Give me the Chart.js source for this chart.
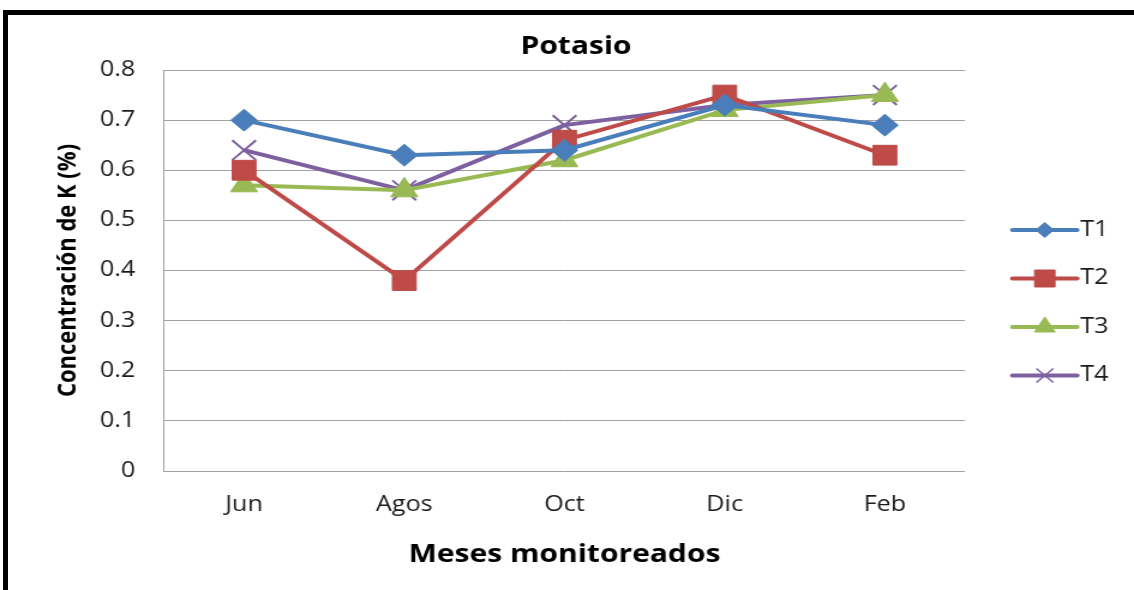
<!DOCTYPE html>
<html><head><meta charset="utf-8">
<script src="https://cdn.jsdelivr.net/npm/chart.js@4.4.0/dist/chart.umd.min.js"></script>
<style>
html,body{margin:0;padding:0;background:#fff;width:1134px;height:590px;overflow:hidden}
#frame{position:absolute;left:3px;top:10px;width:1300px;height:700px;border-top:5px solid #000;border-left:5px solid #000;box-sizing:border-box}
#wrap{position:absolute;left:0;top:0;width:945px;height:590px;transform:scaleX(1.2);transform-origin:0 0}
#c{display:block;width:945px;height:590px}
</style></head><body>
<div id="frame"></div>
<div id="wrap"><canvas id="c" width="945" height="590"></canvas></div>
<script>
const chartTitle = 'Potasio';
const xTitle = 'Meses monitoreados';
const yTitle = 'Concentración de K (%)';
const categories = ['Jun', 'Agos', 'Oct', 'Dic', 'Feb'];
const seriesNames = ['T1', 'T2', 'T3', 'T4'];
const t1 = [0.70, 0.63, 0.64, 0.73, 0.69];
const t2 = [0.60, 0.38, 0.66, 0.75, 0.63];
const t3 = [0.57, 0.56, 0.62, 0.72, 0.75];
const t4 = [0.64, 0.56, 0.69, 0.73, 0.75];
const yMin = 0, yMax = 0.8, yStep = 0.1;

const colors = ['#4A7EBB', '#BE4B48', '#98B954', '#7D60A0'];
const styles = ['rectRot', 'rect', 'triangle', 'crossRot'];
const radii = [11, 14, 13, 14];
const legendRadii = [7.5, 12, 10, 10];
const seriesValues = [t1, t2, t3, t4];
const FONT = "'Open Sans', 'DejaVu Sans', sans-serif";

const datasets = seriesNames.map((n, i) => ({
  label: n,
  data: seriesValues[i],
  borderColor: colors[i],
  backgroundColor: colors[i],
  pointBackgroundColor: colors[i],
  pointBorderColor: colors[i],
  borderWidth: 4,
  pointStyle: styles[i],
  pointRadius: radii[i],
  pointHoverRadius: radii[i],
  pointBorderWidth: i === 3 ? 2 : 1,
  tension: 0,
  fill: false
}));

const overlay = {
  id: 'overlay',
  afterDraw(chart) {
    const ctx = chart.ctx;
    const ca = chart.chartArea;
    ctx.save();
    // title
    ctx.fillStyle = '#000';
    ctx.font = 'bold 25px ' + FONT;
    ctx.textAlign = 'center';
    ctx.textBaseline = 'alphabetic';
    ctx.fillText(chartTitle, ca.left + (ca.right - ca.left) / 2 + 9.6, ca.top - 16);
    // legend
    const lx0 = ca.right + 39.5, lx1 = ca.right + 93.5;
    chart.data.datasets.forEach((ds, i) => {
      const y = ca.top + 160 + i * 48.5;
      ctx.strokeStyle = ds.borderColor;
      ctx.lineWidth = 4;
      ctx.lineCap = 'round';
      ctx.beginPath(); ctx.moveTo(lx0, y); ctx.lineTo(lx1, y); ctx.stroke();
      ctx.lineCap = 'butt';
      ctx.fillStyle = ds.borderColor;
      ctx.strokeStyle = ds.borderColor;
      ctx.lineWidth = i === 3 ? 1.5 : 1;
      Chart.helpers.drawPoint(ctx, {pointStyle: ds.pointStyle, rotation: 0, radius: legendRadii[i], borderWidth: ctx.lineWidth}, (lx0 + lx1) / 2, y);
      ctx.fillStyle = '#1a1a1a';
      ctx.font = '21px ' + FONT;
      ctx.textAlign = 'left';
      ctx.textBaseline = 'middle';
      ctx.fillText(ds.label, lx1 + 2.5, y);
    });
    ctx.restore();
  }
};

new Chart(document.getElementById('c'), {
  type: 'line',
  data: { labels: categories, datasets },
  plugins: [overlay],
  options: {
    responsive: false,
    animation: false,
    devicePixelRatio: 1,
    layout: { padding: { top: 70, right: 140.83, left: 0, bottom: 0 } },
    plugins: { legend: { display: false }, title: { display: false }, tooltip: { enabled: false } },
    scales: {
      x: {
        offset: true,
        grid: { display: false, drawTicks: false },
        border: { display: false },
        ticks: { color: '#1a1a1a', font: { family: FONT, size: 21 }, padding: 21, maxRotation: 0 },
        title: { display: true, text: xTitle, color: '#000', font: { family: FONT, size: 25, weight: 'bold' }, padding: { top: 0, bottom: 20 } },
        afterFit(s) { s.height = 119; }
      },
      y: {
        min: yMin, max: yMax,
        ticks: { stepSize: yStep, color: '#1a1a1a', font: { family: FONT, size: 21 }, padding: 24,
          callback: v => (Math.round(v * 10) / 10).toString() },
        grid: { color: '#a0a0a0', lineWidth: 1, drawTicks: false },
        border: { display: true, color: '#a0a0a0', width: 1 },
        title: { display: true, text: yTitle, color: '#000', font: { family: FONT, size: 22, weight: 'bold' }, padding: { top: 44, bottom: 0 } },
        afterFit(s) { s.width = 136.67; }
      }
    }
  }
});
</script>
</body></html>
